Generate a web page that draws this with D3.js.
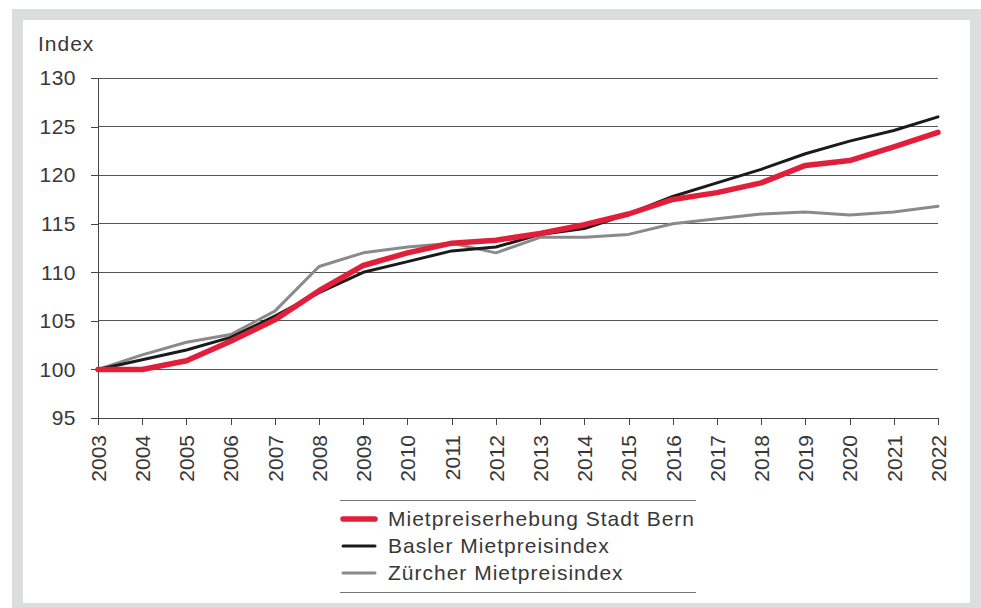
<!DOCTYPE html>
<html>
<head>
<meta charset="utf-8">
<script src="https://cdn.jsdelivr.net/npm/d3@7"></script>
<style>
  body { margin: 0; background: #fff; }
  svg { display: block; }
  text { font-family: "Liberation Sans", Arial, sans-serif; fill: #383838; }
</style>
</head>
<body>
<div id="chart"></div>
<script>
var width = 981;
var height = 608;

// data
var years = [2003, 2004, 2005, 2006, 2007, 2008, 2009, 2010, 2011, 2012,
             2013, 2014, 2015, 2016, 2017, 2018, 2019, 2020, 2021, 2022];
var bern   = [100, 100, 100.9, 102.9, 105.1, 108.1, 110.7, 112.0, 113.0, 113.3,
              114.0, 114.9, 116.0, 117.5, 118.2, 119.2, 121.0, 121.5, 122.9, 124.4];
var basel  = [100, 101.0, 102.0, 103.3, 105.5, 107.9, 110.0, 111.1, 112.2, 112.6,
              113.9, 114.5, 116.0, 117.8, 119.2, 120.6, 122.2, 123.5, 124.6, 126.0];
var zurich = [100, 101.5, 102.8, 103.6, 106.0, 110.6, 112.0, 112.6, 113.0, 112.0,
              113.6, 113.6, 113.9, 115.0, 115.5, 116.0, 116.2, 115.9, 116.2, 116.8];
var yTicks = [95, 100, 105, 110, 115, 120, 125, 130];
var seriesNames = ["Mietpreiserhebung Stadt Bern", "Basler Mietpreisindex", "Zürcher Mietpreisindex"];

var series = [
  { name: seriesNames[0], values: bern,   color: "#e21f3b", width: 5.5 },
  { name: seriesNames[1], values: basel,  color: "#1a1a1a", width: 3 },
  { name: seriesNames[2], values: zurich, color: "#8a8a8a", width: 3 }
];

var svg = d3.select("#chart").append("svg")
  .attr("width", width)
  .attr("height", height);

// grey frame
svg.append("rect").attr("x", 12).attr("y", 9).attr("width", width - 12).attr("height", height - 9)
  .attr("fill", "#dcdddf");
svg.append("rect").attr("x", 23).attr("y", 20).attr("width", 947).attr("height", 583)
  .attr("fill", "#fff");

var x = d3.scaleLinear().domain([2003, 2022]).range([98, 938]);
var y = d3.scaleLinear().domain([95, 130]).range([418, 78]);

// gridlines
svg.append("g").selectAll("line")
  .data(yTicks.filter(function(d) { return d > 95; }))
  .enter().append("line")
    .attr("x1", 98).attr("x2", 938)
    .attr("y1", function(d) { return y(d); })
    .attr("y2", function(d) { return y(d); })
    .attr("stroke", "#555").attr("stroke-width", 1)
    .attr("shape-rendering", "crispEdges");

// y axis
var yAxis = svg.append("g")
  .attr("transform", "translate(98,0)")
  .call(d3.axisLeft(y).tickValues(yTicks).tickSize(7).tickPadding(15).tickSizeOuter(0));
yAxis.select(".domain").attr("stroke", "#444").attr("shape-rendering", "crispEdges");
yAxis.selectAll(".tick line").attr("stroke", "#444").attr("shape-rendering", "crispEdges");
yAxis.selectAll("text").style("font-size", "21px").attr("fill", "#383838")
  .style("font-family", "'Liberation Sans', Arial, sans-serif")
  .style("letter-spacing", "0.5px");

// x axis
var xAxis = svg.append("g")
  .attr("transform", "translate(0,418)")
  .call(d3.axisBottom(x).tickValues(years).tickFormat(d3.format("d")).tickSize(7).tickSizeOuter(0));
xAxis.select(".domain").attr("stroke", "#444").attr("shape-rendering", "crispEdges");
xAxis.selectAll(".tick line").attr("stroke", "#444").attr("shape-rendering", "crispEdges");
xAxis.selectAll("text")
  .style("font-size", "21px").attr("fill", "#383838")
  .style("font-family", "'Liberation Sans', Arial, sans-serif")
  .attr("text-anchor", "end")
  .attr("transform", "rotate(-90)")
  .attr("x", -17).attr("y", 0).attr("dy", "0.35em");

// y axis title
svg.append("text").attr("x", 38).attr("y", 51)
  .style("font-size", "21px").style("letter-spacing", "1px").text("Index");

// lines
var line = d3.line()
  .x(function(d, i) { return x(years[i]); })
  .y(function(d) { return y(d); });

// draw grey first, red on top
series.slice().reverse().forEach(function(s) {
  svg.append("path")
    .datum(s.values)
    .attr("d", line)
    .attr("fill", "none")
    .attr("stroke", s.color)
    .attr("stroke-width", s.width)
    .attr("stroke-linejoin", "round")
    .attr("stroke-linecap", "round");
});

// legend
var legend = svg.append("g");
legend.append("line").attr("x1", 340).attr("x2", 696).attr("y1", 500.5).attr("y2", 500.5)
  .attr("stroke", "#777").attr("stroke-width", 1);
legend.append("line").attr("x1", 340).attr("x2", 696).attr("y1", 592.5).attr("y2", 592.5)
  .attr("stroke", "#777").attr("stroke-width", 1);

var rows = legend.selectAll("g.row").data(series).enter().append("g")
  .attr("class", "row")
  .attr("transform", function(d, i) { return "translate(0," + (519 + i * 27) + ")"; });
rows.append("line")
  .attr("x1", 343).attr("x2", 375)
  .attr("stroke", function(d) { return d.color; })
  .attr("stroke-width", function(d) { return d.width; })
  .attr("stroke-linecap", "round");
rows.append("text")
  .attr("x", 388).attr("dy", "0.35em")
  .style("font-size", "21px")
  .style("letter-spacing", "1px")
  .text(function(d) { return d.name; });
</script>
</body>
</html>
